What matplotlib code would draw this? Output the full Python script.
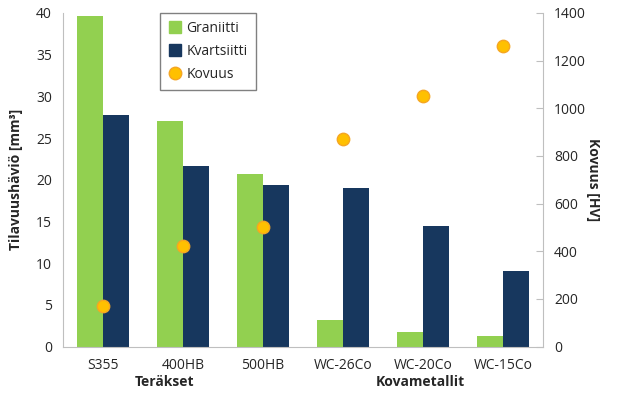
import matplotlib
matplotlib.use("Agg")
import matplotlib.pyplot as plt
from matplotlib.lines import Line2D
import numpy as np

categories = ["S355", "400HB", "500HB", "WC-26Co", "WC-20Co", "WC-15Co"]
graniitti = [39.6, 27.0, 20.7, 3.2, 1.7, 1.2]
kvartsiitti = [27.8, 21.6, 19.4, 19.0, 14.5, 9.1]
kovuus = [170, 420, 500, 870, 1050, 1260]
groups = ["Teräkset", "Kovametallit"]

plt.rcParams['font.family'] = ['Open Sans', 'DejaVu Sans']
txt = '#262626'

fig = plt.figure(figsize=(6.4, 3.97), dpi=100)
ax = fig.add_axes([63/640, 1-346.5/397, (543-63)/640, (346.5-13)/397])
x = np.arange(len(categories))
w = 0.325
green = '#92D050'
navy = '#17375E'
ax.bar(x - w/2, graniitti, w, color=green, label='Graniitti', zorder=2)
ax.bar(x + w/2, kvartsiitti, w, color=navy, label='Kvartsiitti', zorder=2)
ax.set_xlim(-0.5, len(categories) - 0.5)
ax.set_ylim(0, 40)
ax.set_yticks(range(0, 41, 5))
ax.set_xticks(x)
ax.set_xticklabels(categories)
ax.tick_params(axis='x', length=0, pad=8, labelsize=10, colors=txt)
ax.tick_params(axis='y', length=0, pad=8, labelsize=10, colors=txt)
for s in ['top', 'right']:
    ax.spines[s].set_visible(False)
for s in ['left', 'bottom']:
    ax.spines[s].set_color('#BFBFBF')
ax.set_ylabel('Tilavuushäviö [mm³]', fontsize=10, fontweight='bold', color=txt, labelpad=9)

ax2 = ax.twinx()
ax2.scatter(x, kovuus, s=80, color='#FFC000', edgecolors='#F5A623', linewidths=1, zorder=3, label='Kovuus')
ax2.set_ylim(0, 1400)
ax2.set_yticks(range(0, 1401, 200))
ax2.tick_params(axis='y', direction='in', length=5, color='#BFBFBF', pad=8, labelsize=10, colors=txt)
ax2.tick_params(axis='y', color='#BFBFBF')
for s in ['top', 'left', 'bottom']:
    ax2.spines[s].set_visible(False)
ax2.spines['right'].set_color('#BFBFBF')
ax2.set_ylabel('Kovuus [HV]', fontsize=10, fontweight='bold', color=txt, rotation=270, labelpad=10)

# group labels
fig.text(165/640, 1-382/397, groups[0], ha='center', va='center', fontsize=10, fontweight='bold', color=txt)
fig.text(420/640, 1-382/397, groups[1], ha='center', va='center', fontsize=10, fontweight='bold', color=txt)

handles = [
    Line2D([], [], marker='s', linestyle='none', markersize=8, markerfacecolor=green, markeredgecolor=green),
    Line2D([], [], marker='s', linestyle='none', markersize=8, markerfacecolor=navy, markeredgecolor=navy),
    Line2D([], [], marker='o', linestyle='none', markersize=9, markerfacecolor='#FFC000', markeredgecolor='#F5A623'),
]
leg = ax2.legend(handles, ['Graniitti', 'Kvartsiitti', 'Kovuus'], loc='upper left',
                 bbox_to_anchor=((160-63)/480, 1.0), borderaxespad=0, fancybox=False, framealpha=1,
                 edgecolor='#808080', fontsize=10, handletextpad=0.3, borderpad=0.6,
                 labelspacing=0.55, handlelength=1.0)
leg.get_frame().set_linewidth(1)
for t in leg.get_texts():
    t.set_color(txt)

fig.savefig('out.png', dpi=100)
